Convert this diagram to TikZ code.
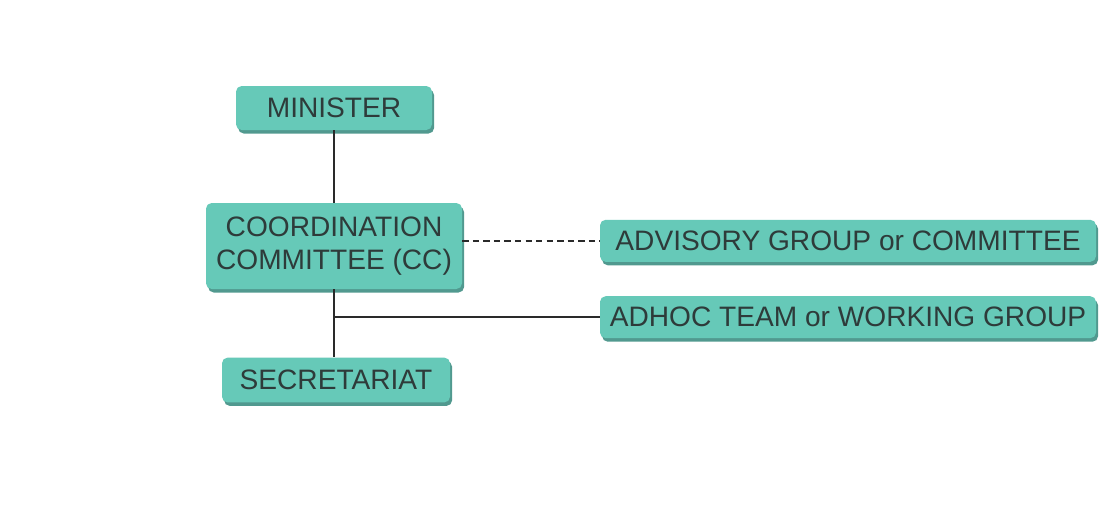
\documentclass[tikz,border=0pt]{standalone}
\usepackage{fontspec}
\setmainfont{Liberation Sans}
\usetikzlibrary{shadows}
\definecolor{teal}{HTML}{66C9B8}
\definecolor{dkteal}{HTML}{3F8F83}
\definecolor{txtgray}{HTML}{2E3B3A}
\definecolor{linegray}{HTML}{2A2A2A}

\tikzset{
  orgbox/.style={draw=none, fill=teal, rounded corners=4pt, text=txtgray,
    font=\fontsize{20}{24}\selectfont, align=center, inner sep=0pt,
    drop shadow={shadow xshift=1.5pt, shadow yshift=-2.5pt, fill=dkteal, opacity=0.9}},
  link/.style={linegray, line width=1.1pt}
}

\begin{document}
\begin{tikzpicture}
\useasboundingbox[fill=white] (0,0) rectangle (27.525,-12.925);

% ===== Left column =====
\node[orgbox, minimum width=4.9cm, minimum height=1.1cm] (minister) at (8.35,-2.7) {MINISTER};
\node[orgbox, minimum width=6.4cm, minimum height=2.15cm] (cc) at (8.35,-6.15) {COORDINATION\\COMMITTEE (CC)};
\node[orgbox, minimum width=5.7cm, minimum height=1.12cm] (secr) at (8.4,-9.5) {SECRETARIAT};

% ===== Right column =====
\node[orgbox, minimum width=12.4cm, minimum height=1.05cm] (advisory) at (21.2,-6.02) {ADVISORY GROUP or COMMITTEE};
\node[orgbox, minimum width=12.4cm, minimum height=1.05cm] (adhoc) at (21.2,-7.93) {ADHOC TEAM or WORKING GROUP};

% Connectors
\draw[link] (minister) -- (cc);
\draw[link] (cc.south) -- (cc.south |- secr.north);
\draw[link, line width=1.4pt, dash pattern=on 4.5pt off 3pt] (cc.east |- advisory.west) -- (advisory.west);
\coordinate (branch) at (cc.south |- adhoc.west);
\draw[link] (branch) -- (adhoc.west);

\end{tikzpicture}
\end{document}
